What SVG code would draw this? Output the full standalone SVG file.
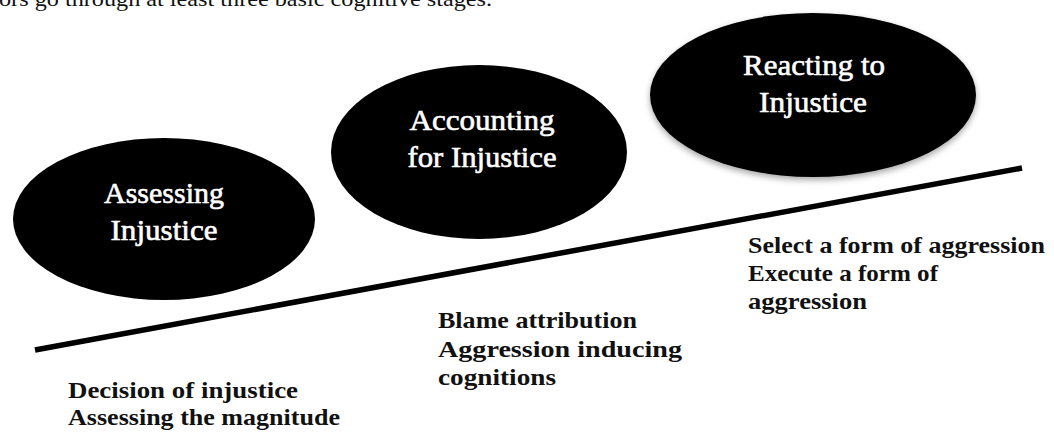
<svg xmlns="http://www.w3.org/2000/svg" width="1054" height="432" viewBox="0 0 1054 432">
<style>
.bg{fill:#ffffff}
.node{fill:#000000}
.nt{font-family:"Liberation Serif","Times New Roman",serif;font-size:29px;fill:#ffffff;stroke:#ffffff;stroke-width:0.6;text-anchor:middle}
.lb{font-family:"Liberation Serif","Times New Roman",serif;font-size:23px;font-weight:bold;fill:#111111}
.top{font-family:"Liberation Serif","Times New Roman",serif;font-size:21px;fill:#111111}
.axis{stroke:#000000;stroke-width:5.5;fill:none}
</style>
<defs>
<filter id="sh" x="-10%" y="-10%" width="120%" height="130%">
<feDropShadow dx="0" dy="3" stdDeviation="3" flood-color="#000000" flood-opacity="0.35"/>
</filter>
</defs>
<rect class="bg" x="0" y="0" width="1054" height="432"/>
<text class="top" x="-1" y="6" textLength="493" lengthAdjust="spacingAndGlyphs">ors go through at least three basic cognitive stages.</text>
<g id="connectors">
<line class="axis" x1="35" y1="350" x2="1022" y2="168"/>
</g>
<g id="node-assessing">
<ellipse class="node" cx="164" cy="219" rx="151" ry="81"/>
<text class="nt" x="164" y="203" textLength="120" lengthAdjust="spacingAndGlyphs">Assessing</text>
<text class="nt" x="164" y="240" textLength="107" lengthAdjust="spacingAndGlyphs">Injustice</text>
</g>
<g id="node-accounting">
<ellipse class="node" cx="479" cy="152" rx="148" ry="87"/>
<text class="nt" x="482" y="130" textLength="145" lengthAdjust="spacingAndGlyphs">Accounting</text>
<text class="nt" x="482" y="167" textLength="149" lengthAdjust="spacingAndGlyphs">for Injustice</text>
</g>
<g id="node-reacting">
<ellipse class="node" cx="813" cy="95" rx="163" ry="82" filter="url(#sh)"/>
<text class="nt" x="814" y="75" textLength="142" lengthAdjust="spacingAndGlyphs">Reacting to</text>
<text class="nt" x="813" y="112" textLength="108" lengthAdjust="spacingAndGlyphs">Injustice</text>
</g>
<g id="label-assessing">
<text class="lb" x="68" y="398" textLength="230" lengthAdjust="spacingAndGlyphs">Decision of injustice</text>
<text class="lb" x="68" y="425" textLength="272" lengthAdjust="spacingAndGlyphs">Assessing the magnitude</text>
</g>
<g id="label-accounting">
<text class="lb" x="438" y="328" textLength="199" lengthAdjust="spacingAndGlyphs">Blame attribution</text>
<text class="lb" x="438" y="357" textLength="244" lengthAdjust="spacingAndGlyphs">Aggression inducing</text>
<text class="lb" x="438" y="385" textLength="118" lengthAdjust="spacingAndGlyphs">cognitions</text>
</g>
<g id="label-reacting">
<text class="lb" x="748" y="253" textLength="297" lengthAdjust="spacingAndGlyphs">Select a form of aggression</text>
<text class="lb" x="748" y="281" textLength="190" lengthAdjust="spacingAndGlyphs">Execute a form of</text>
<text class="lb" x="748" y="309" textLength="119" lengthAdjust="spacingAndGlyphs">aggression</text>
</g>
</svg>
